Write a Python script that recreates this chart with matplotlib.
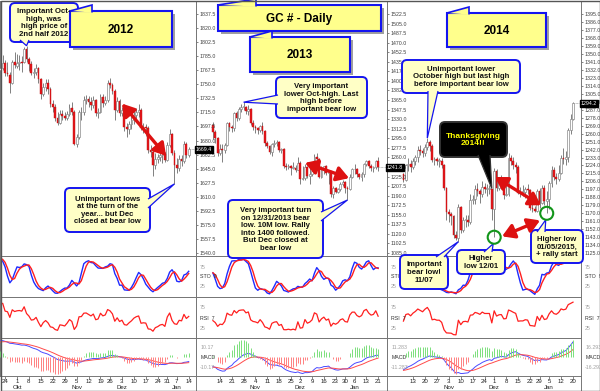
import numpy as np
import pandas as pd
import matplotlib
matplotlib.use("Agg")
import matplotlib.pyplot as plt
import matplotlib.transforms as mtrans
from matplotlib.patches import FancyBboxPatch, Polygon, Rectangle, Ellipse

plt.rcParams['font.family'] = ['Liberation Sans', 'DejaVu Sans']

# ====================== DATA ======================
# Panel 1: GC daily 2012-09-20 .. 2013-01-14
p1_start, p1_end = "2012-09-20", "2013-01-14"
p1_holidays = ["2012-11-22", "2012-12-25", "2013-01-01"]
p1_open = [1768, 1770, 1776, 1764, 1762, 1752, 1778, 1773, 1777, 1778,
           1778, 1794, 1781, 1775, 1764, 1765, 1770, 1756, 1738, 1747,
           1752, 1744, 1725, 1722, 1708, 1702, 1713, 1711, 1708, 1713,
           1720, 1715, 1676, 1684, 1715, 1716, 1731, 1732, 1728, 1724,
           1730, 1714, 1716, 1734, 1727, 1730, 1752, 1749, 1742, 1718,
           1729, 1714, 1718, 1697, 1694, 1700, 1705, 1712, 1716, 1718,
           1696, 1697, 1696, 1668, 1666, 1650, 1657, 1659, 1662, 1663,
           1656, 1675, 1688, 1665, 1649, 1646, 1657, 1655, 1676, 1662]
p1_high = [1775, 1787, 1780, 1778, 1765, 1780, 1790, 1788, 1786, 1785,
           1796, 1798, 1784, 1779, 1770, 1775, 1772, 1758, 1752, 1757,
           1756, 1747, 1730, 1725, 1715, 1718, 1718, 1715, 1717, 1725,
           1728, 1718, 1688, 1718, 1722, 1735, 1737, 1736, 1734, 1735,
           1732, 1720, 1738, 1738, 1735, 1755, 1758, 1752, 1744, 1734,
           1732, 1722, 1723, 1702, 1704, 1710, 1717, 1720, 1725, 1720,
           1702, 1700, 1698, 1675, 1668, 1664, 1663, 1668, 1670, 1666,
           1678, 1694, 1690, 1668, 1658, 1662, 1662, 1680, 1678, 1672]
p1_low = [1758, 1768, 1760, 1760, 1739, 1750, 1770, 1770, 1768, 1765,
          1776, 1778, 1767, 1762, 1758, 1762, 1752, 1732, 1735, 1742,
          1738, 1722, 1716, 1704, 1699, 1700, 1706, 1705, 1706, 1710,
          1712, 1674, 1672, 1682, 1705, 1712, 1725, 1722, 1718, 1720,
          1710, 1708, 1714, 1722, 1724, 1728, 1745, 1738, 1706, 1716,
          1710, 1710, 1692, 1684, 1688, 1694, 1700, 1706, 1709, 1693,
          1690, 1686, 1664, 1660, 1636, 1645, 1652, 1655, 1652, 1653,
          1655, 1672, 1662, 1626, 1640, 1642, 1648, 1652, 1658, 1659]
p1_close = [1770, 1776, 1764, 1763, 1752, 1778, 1774, 1777, 1778, 1777,
            1794, 1781, 1775, 1764, 1765, 1770, 1756, 1738, 1747, 1752,
            1744, 1725, 1722, 1708, 1702, 1713, 1711, 1708, 1713, 1720,
            1715, 1676, 1684, 1715, 1716, 1731, 1732, 1728, 1724, 1730,
            1714, 1716, 1734, 1727, 1730, 1752, 1749, 1742, 1718, 1729,
            1714, 1718, 1697, 1694, 1700, 1705, 1712, 1716, 1718, 1696,
            1697, 1696, 1668, 1666, 1650, 1657, 1659, 1662, 1663, 1656,
            1675, 1688, 1665, 1649, 1646, 1657, 1655, 1676, 1662, 1669.4]
# closes before the visible window (indicator warm-up), 2012-08-01 .. 2012-09-19
p1_warmup_close = [1600, 1588, 1607, 1609, 1615, 1611, 1620, 1621, 1614, 1605,
                   1607, 1617, 1623, 1623, 1644, 1644, 1672, 1672, 1668, 1670,
                   1661, 1657, 1692, 1696, 1694, 1704, 1740, 1731, 1735, 1734,
                   1770, 1772, 1770, 1770, 1772]
p1_price_ticks = np.arange(1540.0, 1840.0, 17.5)
p1_macd_labels = ["10.17", "MACD", "-10.17"]

# Panel 2: GC daily 2013-10-09 .. 2014-01-21
p2_start, p2_end = "2013-10-09", "2014-01-21"
p2_holidays = ["2013-11-28", "2013-12-25", "2014-01-01", "2014-01-20"]
p2_open = [1320, 1307, 1296, 1268, 1276, 1273, 1283, 1323, 1316, 1314,
           1342, 1333, 1349, 1352, 1353, 1345, 1349, 1323, 1316, 1314,
           1310, 1318, 1308, 1286, 1281, 1270, 1284, 1287, 1288, 1273,
           1275, 1244, 1243, 1244, 1240, 1241, 1237, 1250, 1221, 1222,
           1242, 1226, 1229, 1235, 1261, 1257, 1225, 1237, 1244, 1231,
           1235, 1193, 1204, 1197, 1202, 1212, 1215, 1204, 1202, 1225,
           1238, 1238, 1229, 1225, 1229, 1247, 1253, 1245, 1240, 1242,
           1254]
p2_high = [1325, 1310, 1298, 1284, 1285, 1286, 1324, 1325, 1319, 1343,
           1345, 1352, 1357, 1361, 1355, 1356, 1350, 1328, 1320, 1316,
           1320, 1324, 1310, 1290, 1283, 1287, 1292, 1291, 1290, 1278,
           1277, 1250, 1248, 1246, 1251, 1246, 1260, 1253, 1245, 1247,
           1245, 1240, 1240, 1267, 1268, 1259, 1245, 1245, 1246, 1237,
           1236, 1207, 1205, 1204, 1215, 1218, 1216, 1208, 1230, 1240,
           1248, 1240, 1231, 1233, 1250, 1256, 1255, 1247, 1244, 1256,
           1260]
p2_low = [1294, 1287, 1262, 1265, 1251, 1268, 1281, 1309, 1306, 1309,
          1326, 1329, 1344, 1346, 1340, 1338, 1320, 1310, 1305, 1302,
          1306, 1302, 1281, 1277, 1267, 1263, 1279, 1281, 1270, 1268,
          1240, 1237, 1238, 1227, 1238, 1233, 1237, 1211, 1219, 1218,
          1222, 1211, 1226, 1233, 1250, 1222, 1222, 1230, 1227, 1212,
          1188, 1185, 1194, 1195, 1198, 1208, 1194, 1182, 1200, 1223,
          1230, 1224, 1220, 1217, 1224, 1244, 1240, 1236, 1234, 1238,
          1236]
p2_close = [1307, 1296, 1268, 1276, 1273, 1283, 1323, 1316, 1314, 1342,
            1333, 1349, 1352, 1353, 1345, 1349, 1323, 1316, 1314, 1310,
            1318, 1308, 1286, 1281, 1270, 1284, 1287, 1288, 1273, 1275,
            1244, 1243, 1244, 1240, 1241, 1237, 1250, 1221, 1222, 1242,
            1226, 1229, 1235, 1261, 1257, 1225, 1237, 1244, 1231, 1235,
            1193, 1204, 1197, 1202, 1212, 1215, 1204, 1202, 1225, 1238,
            1238, 1229, 1225, 1229, 1247, 1253, 1245, 1240, 1242, 1254,
            1241.8]
p2_warmup_close = [1372, 1370, 1377, 1396, 1405, 1420, 1418, 1411, 1396, 1412,
                   1389, 1366, 1387, 1386, 1363, 1367, 1332, 1308, 1318, 1309,
                   1304, 1368, 1333, 1324, 1316, 1337, 1324, 1339, 1327, 1286,
                   1317, 1316, 1310, 1325, 1320]
p2_price_ticks = np.arange(1085.0, 1525.0, 17.5)
p2_macd_labels = ["11.283", "MACD", "-11.283"]

# Panel 3: GC daily 2014-10-07 .. 2015-01-20
p3_start, p3_end = "2014-10-07", "2015-01-20"
p3_holidays = ["2014-11-27", "2014-12-25", "2015-01-01", "2015-01-19"]
p3_open = [1214, 1208, 1224, 1226, 1222, 1229, 1234, 1242, 1240, 1238,
           1245, 1251, 1246, 1230, 1231, 1229, 1229, 1225, 1199, 1171,
           1169, 1167, 1145, 1142, 1177, 1151, 1162, 1163, 1160, 1185,
           1186, 1197, 1195, 1192, 1200, 1197, 1197, 1197, 1175, 1218,
           1199, 1205, 1206, 1191, 1192, 1232, 1229, 1225, 1222, 1193,
           1194, 1194, 1197, 1196, 1176, 1175, 1173, 1195, 1182, 1199,
           1184, 1186, 1204, 1219, 1211, 1209, 1216, 1233, 1231, 1234,
           1264, 1277]
p3_high = [1216, 1226, 1232, 1230, 1232, 1236, 1246, 1247, 1244, 1248,
           1255, 1253, 1248, 1234, 1234, 1232, 1232, 1226, 1200, 1175,
           1172, 1168, 1150, 1180, 1178, 1166, 1168, 1168, 1192, 1191,
           1202, 1204, 1198, 1207, 1204, 1203, 1202, 1198, 1221, 1220,
           1210, 1213, 1208, 1205, 1238, 1236, 1234, 1228, 1225, 1200,
           1202, 1200, 1203, 1198, 1181, 1178, 1197, 1199, 1202, 1202,
           1195, 1207, 1223, 1222, 1215, 1224, 1236, 1244, 1240, 1266,
           1282, 1296]
p3_low = [1205, 1206, 1218, 1217, 1220, 1225, 1228, 1236, 1234, 1235,
          1242, 1240, 1228, 1225, 1225, 1222, 1221, 1196, 1162, 1160,
          1157, 1142, 1140, 1138, 1148, 1149, 1154, 1156, 1158, 1180,
          1180, 1190, 1182, 1188, 1193, 1190, 1192, 1162, 1143, 1195,
          1196, 1201, 1186, 1189, 1190, 1224, 1220, 1216, 1192, 1188,
          1190, 1187, 1192, 1174, 1172, 1171, 1172, 1176, 1180, 1179,
          1170, 1175, 1200, 1208, 1203, 1207, 1214, 1226, 1225, 1228,
          1260, 1275]
p3_close = [1208, 1224, 1226, 1222, 1229, 1234, 1242, 1240, 1238, 1245,
            1251, 1246, 1230, 1231, 1229, 1229, 1225, 1199, 1171, 1169,
            1167, 1145, 1142, 1177, 1151, 1162, 1163, 1160, 1185, 1186,
            1197, 1195, 1192, 1200, 1197, 1197, 1197, 1175, 1218, 1199,
            1205, 1206, 1191, 1192, 1232, 1229, 1225, 1222, 1193, 1194,
            1194, 1197, 1196, 1176, 1175, 1173, 1195, 1182, 1199, 1184,
            1186, 1204, 1219, 1211, 1209, 1216, 1233, 1231, 1234, 1264,
            1277, 1294.2]
p3_warmup_close = [1306, 1299, 1296, 1294, 1275, 1280, 1277, 1283, 1285, 1290,
                   1286, 1265, 1270, 1262, 1267, 1253, 1250, 1249, 1240, 1230,
                   1235, 1236, 1235, 1225, 1215, 1217, 1222, 1220, 1221, 1216,
                   1219, 1210, 1214, 1215, 1192, 1207]
p3_price_ticks = np.arange(1125.0, 1396.0, 9.0)
p3_macd_labels = ["16.293", "MACD", "-16.293"]

MONTHS = ['Jan', 'Feb', 'Mär', 'Apr', 'Mai', 'Jun', 'Jul', 'Aug', 'Sep', 'Okt', 'Nov', 'Dez']

# ====================== HELPERS ======================
def trading_days(start, end, hol):
    d = pd.bdate_range(start, end)
    return [x for x in d if x.strftime('%Y-%m-%d') not in hol]


def wilder(x, n):
    out = np.empty(len(x)); out[0] = x[0]
    for i in range(1, len(x)):
        out[i] = out[i - 1] + (x[i] - out[i - 1]) / n
    return out


def ema(x, n):
    a = 2.0 / (n + 1); out = np.empty(len(x)); out[0] = x[0]
    for i in range(1, len(x)):
        out[i] = a * x[i] + (1 - a) * out[i - 1]
    return out


def indicators(o, h, l, c, warm):
    n = len(c)
    fc = np.r_[warm, c]; fh = np.r_[warm, h]; fl = np.r_[warm, l]
    k = np.zeros(len(fc))
    for i in range(len(fc)):
        a = max(0, i - 8)
        hh, ll = fh[a:i + 1].max(), fl[a:i + 1].min()
        k[i] = 100 * (fc[i] - ll) / max(hh - ll, 1e-9)
    ks = pd.Series(k).rolling(3, min_periods=1).mean().values
    kd = pd.Series(ks).rolling(3, min_periods=1).mean().values
    d = np.diff(fc, prepend=fc[0])
    au = wilder(np.clip(d, 0, None), 7); ad = wilder(np.clip(-d, 0, None), 7)
    rsi = 100 - 100 / (1 + au / np.maximum(ad, 1e-9))
    macd = ema(fc, 12) - ema(fc, 26)
    sig = ema(macd, 9)
    return ks[-n:], kd[-n:], rsi[-n:], macd[-n:], sig[-n:], (macd - sig)[-n:]


W, H = 600, 391
fig = plt.figure(figsize=(W / 100, H / 100), dpi=100)
fig.patch.set_facecolor('white')


def add_px_axes(x0, y0, x1, y1, z):
    ax = fig.add_axes([x0 / W, 1 - y1 / H, (x1 - x0) / W, (y1 - y0) / H], zorder=z)
    ax.set_facecolor('none')
    for s in ax.spines.values():
        s.set_color('#777777'); s.set_linewidth(0.7)
    return ax


COLS = [(0, 196), (196, 387), (387, 581)]
ROWS = dict(price=(1, 256), sto=(256, 297), rsi=(297, 338), macd=(338, 376))
XLIMS = [(-0.13, 82.05), (-7.17, 73.76), (-6.89, 74.35)]
YLIMS = [(1536.3, 1853.7), (1079.5, 1546.3), (1121.8, 1409.7)]

panels = [
    dict(dates=trading_days(p1_start, p1_end, p1_holidays), o=p1_open, h=p1_high, l=p1_low, c=p1_close,
         warm=p1_warmup_close, ticks=p1_price_ticks, mlab=p1_macd_labels),
    dict(dates=trading_days(p2_start, p2_end, p2_holidays), o=p2_open, h=p2_high, l=p2_low, c=p2_close,
         warm=p2_warmup_close, ticks=p2_price_ticks, mlab=p2_macd_labels),
    dict(dates=trading_days(p3_start, p3_end, p3_holidays), o=p3_open, h=p3_high, l=p3_low, c=p3_close,
         warm=p3_warmup_close, ticks=p3_price_ticks, mlab=p3_macd_labels),
]

UPC, DNC, WICK = 'white', '#e4161b', '#808080'
LBL = 3.8
for k, P in enumerate(panels):
    o, h, l, c = (np.asarray(P[key], float) for key in 'ohlc')
    n = len(c); x = np.arange(n)
    x0, x1 = COLS[k]
    z = 10 - k
    ax = add_px_axes(x0, ROWS['price'][0], x1, ROWS['price'][1], z)
    ax.set_xlim(*XLIMS[k]); ax.set_ylim(*YLIMS[k])
    minh = (YLIMS[k][1] - YLIMS[k][0]) / 255 * 0.9
    ax.vlines(x, l, h, color=WICK, lw=0.7, zorder=2)
    up = c >= o
    bot = np.minimum(o, c); hgt = np.maximum(np.abs(c - o), minh)
    ax.bar(x[up], hgt[up], bottom=bot[up], width=0.75, color=UPC, edgecolor='#8a8a8a', lw=0.5, zorder=3)
    ax.bar(x[~up], hgt[~up], bottom=bot[~up], width=0.75, color=DNC, edgecolor='#c01010', lw=0.3, zorder=3)
    ax.plot([n - 0.6, XLIMS[k][1]], [c[-1], c[-1]], color='#888888', lw=0.5, ls=(0, (1, 1)), zorder=2)
    ax.set_xticks([])
    ax.yaxis.tick_right()
    ax.set_yticks(P['ticks'])
    ax.set_yticklabels(['%.1f' % t for t in P['ticks']])
    ax.tick_params(axis='y', labelsize=LBL, length=1.5, width=0.5, pad=0.8, colors='#555555', labelcolor='#404040')
    ax.text(1.0, c[-1], '%.1f' % c[-1], transform=mtrans.blended_transform_factory(ax.transAxes, ax.transData),
            ha='left', va='center', fontsize=LBL, color='white', zorder=20,
            bbox=dict(boxstyle='square,pad=0.2', fc='black', ec='black'))

    ks, kd, rsi, macd, sig, hist = indicators(o, h, l, c, np.asarray(P['warm'], float))

    # STO
    a2 = add_px_axes(x0, ROWS['sto'][0], x1, ROWS['sto'][1], z)
    a2.set_xlim(*XLIMS[k]); a2.set_ylim(-3, 103)
    a2.plot(x, ks, color='#1f2bff', lw=1.0)
    a2.plot(x, kd, color='#ff1f1f', lw=1.0)
    a2.set_xticks([]); a2.yaxis.tick_right()
    a2.set_yticks([25, 50, 75]); a2.set_yticklabels(['25', 'STO  9', '75'])
    a2.tick_params(axis='y', labelsize=LBL, length=0, pad=3)
    for t, col in zip(a2.get_yticklabels(), ['#a0a0a0', '#333333', '#a0a0a0']):
        t.set_color(col)

    # RSI
    a3 = add_px_axes(x0, ROWS['rsi'][0], x1, ROWS['rsi'][1], z)
    a3.set_xlim(*XLIMS[k]); a3.set_ylim(0, 100)
    a3.plot(x, rsi, color='#ff1f1f', lw=0.9)
    a3.set_xticks([]); a3.yaxis.tick_right()
    a3.set_yticks([25, 50, 75]); a3.set_yticklabels(['25', 'RSI  7', '75'])
    a3.tick_params(axis='y', labelsize=LBL, length=0, pad=3)
    for t, col in zip(a3.get_yticklabels(), ['#a0a0a0', '#333333', '#a0a0a0']):
        t.set_color(col)

    # MACD
    a4 = add_px_axes(x0, ROWS['macd'][0], x1, ROWS['macd'][1], z)
    a4.set_xlim(*XLIMS[k])
    m = max(np.abs(macd).max(), np.abs(sig).max()) * 1.15
    a4.set_ylim(-m, m)
    a4h = a4.twinx(); a4h.set_zorder(z); a4h.set_facecolor('none')
    hm = np.abs(hist).max() * 1.1
    a4h.set_ylim(-hm, hm)
    a4h.vlines(x[hist >= 0], 0, hist[hist >= 0], color='#7be07b', lw=0.7)
    a4h.vlines(x[hist < 0], hist[hist < 0], 0, color='#ff8080', lw=0.7)
    a4h.set_yticks([]); a4h.axis('off')
    a4.plot(x, macd, color='#4a4aff', lw=0.7, zorder=5)
    a4.plot(x, sig, color='#ff4a4a', lw=0.7, zorder=5)
    a4.yaxis.tick_right()
    a4.set_yticks([0.55 * m, 0, -0.55 * m]); a4.set_yticklabels(P['mlab'])
    a4.tick_params(axis='y', labelsize=LBL, length=0, pad=3)
    for t, col in zip(a4.get_yticklabels(), ['#a0a0a0', '#333333', '#a0a0a0']):
        t.set_color(col)
    # date axis
    dates = P['dates']
    pos, lab, mon = [], [], []
    prev_m = None
    for i in range(1, len(dates)):
        if dates[i].isocalendar()[1] != dates[i - 1].isocalendar()[1]:
            pos.append(i); lab.append(str(dates[i].day))
            mm = dates[i].month
            mon.append(MONTHS[mm - 1] if (prev_m is not None and mm != prev_m) else '')
            prev_m = mm
    a4.set_xticks(pos); a4.set_xticklabels(lab)
    a4.tick_params(axis='x', labelsize=4.4, length=2, width=0.5, pad=0.5, colors='#555555', labelcolor='#222222')
    tr = mtrans.blended_transform_factory(a4.transData, a4.transAxes)
    for p_, m_ in zip(pos, mon):
        if m_:
            a4.text(p_, -0.24, m_, transform=tr, ha='center', va='top', fontsize=4.4, color='#222222')
    P.update(ax=ax, idx={d.strftime('%Y-%m-%d'): i for i, d in enumerate(dates)},
             o_=o, h_=h, l_=l, c_=c)

# ====================== ANNOTATIONS (overlay in pixel space) ======================
ov = fig.add_axes([0, 0, 1, 1], zorder=100)
ov.set_xlim(0, W); ov.set_ylim(H, 0); ov.axis('off')


def dpx(k, date, field):
    P = panels[k]; i = P['idx'][date]
    d = P['ax'].transData.transform((i, P[field + '_'][i]))
    return tuple(ov.transData.inverted().transform(d))


def dxy(k, xi, price):
    d = panels[k]['ax'].transData.transform((xi, price))
    return tuple(ov.transData.inverted().transform(d))


YEL, BLUE = '#ffffc6', '#1414f0'


def callout(box, text, base, tip, fc=YEL, ec=BLUE, tc='#111111', fs=5.6):
    x0, y0, x1, y1 = box
    ov.add_patch(FancyBboxPatch((x0, y0), x1 - x0, y1 - y0, boxstyle='round,pad=0,rounding_size=5',
                                fc=fc, ec=ec, lw=1.4, zorder=30))
    ov.add_patch(Polygon([base[0], tip, base[1]], closed=False, fc=fc, ec=ec, lw=0.9, zorder=31))
    ov.text((x0 + x1) / 2, (y0 + y1) / 2 + 0.5, text, ha='center', va='center', fontsize=fs,
            fontweight='bold', color=tc, linespacing=1.1, zorder=32)


def title_box(box, text, fs=8.5, fw=22):
    x0, y0, x1, y1 = box
    ov.add_patch(Rectangle((x0 + 3, y0 + 3), x1 - x0, y1 - y0, fc='#a0a0a0', ec='none', zorder=30))
    ov.add_patch(Rectangle((x0, y0), x1 - x0, y1 - y0, fc='#ffff8c', ec=BLUE, lw=1.5, zorder=31))
    ov.add_patch(Polygon([(x0, y0), (x0 + fw, y0 - 6), (x0 + fw, y0 + 1.5)], closed=False,
                         fc='#ffff8c', ec=BLUE, lw=1.2, zorder=32))
    ov.text((x0 + x1) / 2, (y0 + y1) / 2 + 1, text, ha='center', va='center', fontsize=fs,
            fontweight='bold', color='black', zorder=33)


def red_arrow(p, q):
    ov.annotate('', xy=q, xytext=p, zorder=40,
                arrowprops=dict(arrowstyle='<|-|>,head_length=0.9,head_width=0.55', color='#dd1111',
                                lw=2.4, mutation_scale=8, shrinkA=0, shrinkB=0))


def circle(c, r=6.5):
    ov.add_patch(Ellipse(c, 2 * r, 2 * r, fc='none', ec='#12951a', lw=1.5, zorder=41))


# titles
title_box((70, 11, 172, 47), '2012')
title_box((218, 5, 381, 31), 'GC # - Daily', fw=38)
title_box((250, 37, 350, 72), '2013')
title_box((447, 13, 546, 47), '2014')

# callouts
callout((10, 3, 78, 42), 'Important Oct-\nhigh, was\nhigh price of\n2nd half 2012',
        [(20, 40), (29, 40)], dpx(0, '2012-10-05', 'h'))
callout((65, 188, 150, 232), 'Unimportant lows\nat the turn of the\nyear... but Dec\nclosed at bear low',
        [(148, 199), (148, 208)], dpx(0, '2013-01-04', 'l'))
callout((276, 77, 367, 118), 'Very important\nlower Oct-high. Last\nhigh before\nimportant bear low',
        [(278, 95), (278, 104)], dpx(1, '2013-10-28', 'h'))
callout((228, 200, 323, 258), 'Very important turn\non 12/31/2013 bear\nlow. 10M low. Rally\ninto 1400 followed.\nBut Dec closed at\nbear low',
        [(321, 212), (321, 221)], dpx(1, '2013-12-31', 'l'))
callout((402, 60, 520, 93), 'Unimportant lower\nOctober high but last high\nbefore important bear low',
        [(428, 91), (438, 91)], dpx(2, '2014-10-21', 'h'))
callout((440, 122, 507, 157), 'Thanksgiving\n2014!!', [(478, 155), (490, 155)],
        dpx(2, '2014-11-28', 'h'), fc='black', ec='#333333', tc='#ffff00', fs=6.0)

c1 = dpx(2, '2014-12-01', 'l')
c2 = dpx(2, '2015-01-02', 'l')
circle(c1); circle(c2)
callout((400, 255, 448, 289), 'Important\nbear low!\n11/07', [(436, 257), (444, 257)],
        dpx(2, '2014-11-07', 'l'))
callout((457, 250, 505, 274), 'Higher\nlow 12/01', [(484, 252), (492, 252)], (c1[0] - 1, c1[1] + 6.5))
callout((531, 230, 583, 263), 'Higher low\n01/05/2015,\n+ rally start', [(537, 232), (545, 232)],
        (c2[0] - 1, c2[1] + 6.5))

# red arrows (data coordinates: trading-day index, price)
red_arrow(dxy(0, 51.0, 1726), dxy(0, 69.5, 1661))
red_arrow(dxy(1, 39.0, 1250), dxy(1, 57.7, 1222))
red_arrow(dxy(2, 38.3, 1211), dxy(2, 57.6, 1179))
red_arrow(dxy(2, 41.3, 1144), dxy(2, 57.2, 1162))

# separators / border
for xs in (196, 387, 581):
    ov.plot([xs, xs], [376, 391], color='#777777', lw=0.7, zorder=5)
ov.add_patch(Rectangle((0.5, 0.5), W - 1, H - 1, fc='none', ec='#555555', lw=1.0, zorder=60))

fig.savefig('out.png', dpi=100)
